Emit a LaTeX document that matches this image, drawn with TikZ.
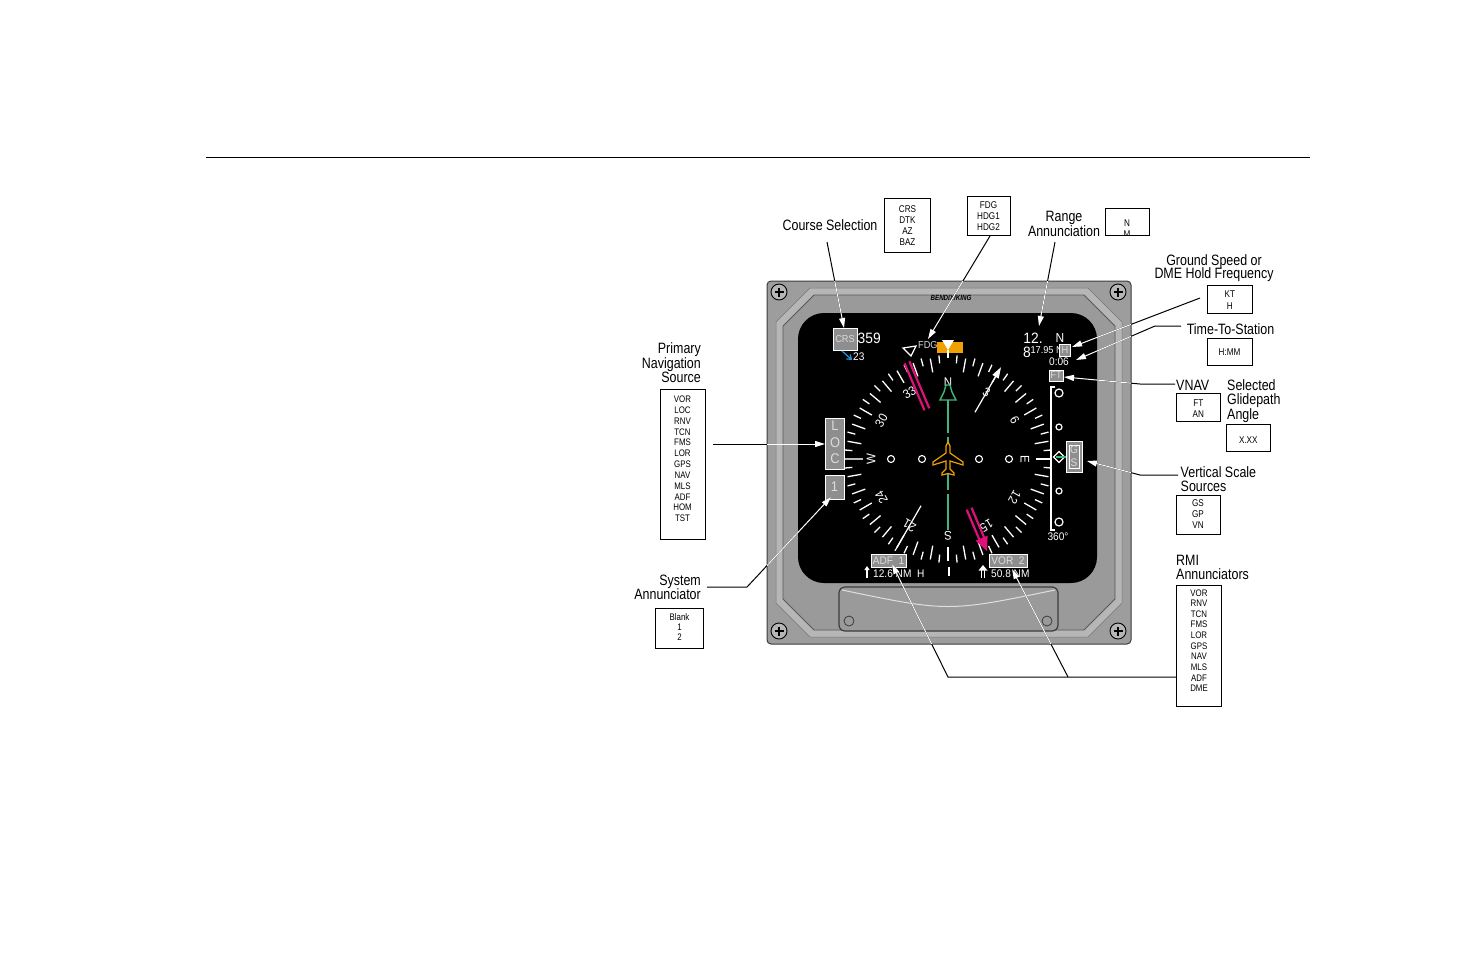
\documentclass[tikz,border=0pt]{standalone}
\usepackage{fontspec}
\setmainfont{Liberation Sans}[FakeStretch=0.83]
\newfontfamily\dispfont{Liberation Sans}[FakeStretch=0.92]
\usetikzlibrary{arrows.meta}
\definecolor{casegray}{HTML}{9D9D9D}
\definecolor{bandgray}{HTML}{B6B6B6}
\definecolor{recgray}{HTML}{9A9A9A}
\definecolor{edgegray}{HTML}{3C3C3C}
\definecolor{annfill}{HTML}{8E8E8E}
\definecolor{anntext}{HTML}{DCDCDC}
\definecolor{hsgreen}{HTML}{3DB87A}
\definecolor{hsorange}{HTML}{F0A000}
\definecolor{hsmag}{HTML}{E0107A}
\definecolor{hsblue}{HTML}{1E9BE0}
\newcommand\myfs[1]{\fontsize{#1}{#1}\selectfont}
\newcommand\mycallouts[1]{%
  \draw[callout,#1] (csS) -- (csE);
  \draw[callout,#1] (fdS) -- (fdE);
  \draw[callout,#1] (raS) -- (raE);
  \draw[callout,#1] (gsS) -- (gsE);
  \draw[callout,#1] (ttS) -- (ttB) -- (ttE);
  \draw[callout,#1] (vnS) -- (vnB) -- (vnE);
  \draw[callout,#1] (vsS) -- (vsB) -- (vsE);
  \draw[callout,#1] (rmS) -- (rmC) -- (rmE2);
  \draw[callout,#1] (rmB) -- (rmE1);
  \draw[callout,#1] (pnS) -- (pnE);
  \draw[callout,#1] (saS) -- (saB) -- (saE);
}
\begin{document}
\begin{tikzpicture}[x=1pt,y=-1pt,
  lbl/.style={font=\myfs{15}, inner sep=0pt},
  boxtxt/.style={font=\myfs{9.8}, inner sep=0pt, anchor=base},
  listtxt/.style={font=\myfs{9.5}, inner sep=0pt, anchor=base},
  optbox/.style={draw=black, line width=0.8pt, inner sep=0pt, outer sep=0pt},
  disp/.style={font=\dispfont\myfs{11}, text=white, inner sep=0pt},
  annbox/.style={fill=annfill, draw=white, line width=0.8pt, text=anntext, inner sep=0pt, font=\dispfont\myfs{10}},
  tickline/.style={white, line width=1.3pt},
  callout/.style={line width=1pt, -{Triangle[length=10pt,width=6pt]}},
]
\useasboundingbox (0,0) rectangle (1473,954);
\fill[white] (0,0) rectangle (1473,954);

% top rule
\coordinate (ruleL) at (206,157);
\coordinate (ruleR) at (1310,157);
\draw[line width=0.9pt] (ruleL) -- (ruleR);

% ---------- instrument case ----------
\draw[fill=casegray, draw=edgegray, line width=1pt, rounded corners=4pt] (767,281) rectangle (1131,644);
\draw[fill=bandgray, draw=edgegray!70, line width=0.5pt] (776,322) -- (810,288) -- (1088,288) -- (1122,322) -- (1122,603) -- (1088,637) -- (810,637) -- (776,603) -- cycle;
\draw[fill=recgray, draw=edgegray!85, line width=0.8pt] (783,326) -- (814,295) -- (1084,295) -- (1115,326) -- (1115,599) -- (1084,630) -- (814,630) -- (783,599) -- cycle;
\fill[black, rounded corners=26pt] (798,313) rectangle (1097,583);

% lower panel
\draw[fill=recgray, draw=edgegray, line width=1.2pt, rounded corners=6pt] (839,587) rectangle (1058,631);
\draw[white!75!gray, line width=1pt] (842,590) .. controls (948,612) .. (1055,590);
\draw[edgegray, line width=0.8pt] (849,621) circle[radius=5];
\draw[edgegray, line width=0.8pt] (1047,621) circle[radius=5];

% screws
\foreach \sx/\sy in {779/292,1118/292,779/631,1118/631}{
  \draw[fill=bandgray, draw=black, line width=0.9pt] (\sx,\sy) circle[radius=8];
  \draw[line width=2pt] (\sx-4.5,\sy) -- (\sx+4.5,\sy) (\sx,\sy-4.5) -- (\sx,\sy+4.5);
}
\node[font=\bfseries\itshape\myfs{7.5}, inner sep=0pt] (logo) at (951,298) {BENDIX/KING};

% ---------- compass card ----------
\coordinate (cc) at (948,459);
\foreach \h in {10,20,...,260,280,290,...,350}
  \draw[tickline, shift={(cc)}, rotate=-\h] (0,-102) -- (0,-88);
\foreach \h in {5,15,...,355}
  \draw[tickline, shift={(cc)}, rotate=-\h] (0,-104) -- (0,-96);
\draw[gray!55, line width=2pt] (845,459) -- (863,459);
\foreach \h/\t in {0/N,30/3,60/6,90/E,120/12,150/15,180/S,210/21,240/24,270/W,300/30,330/33}
  \node[disp, font=\dispfont\myfs{12.5}, rotate=-\h] (lab\h) at ({948+77*sin(\h)},{459-77*cos(\h)}) {\t};

% desired track bug + FDG
\draw[white, line width=1.2pt] (903,348) -- (916,346) -- (911,356) -- cycle;
\node[disp, text=anntext, font=\dispfont\myfs{10}, anchor=west] (fdg) at (918,345) {FDG};

% heading bug and lubber lines
\fill[hsorange] (937,342) rectangle (963,353);
\fill[white] (942,340) -- (954,340) -- (948,350) -- cycle;
\draw[white, line width=1.2pt] (948,350) -- (948,358);
\draw[white, line width=1.2pt] (949,567) -- (949,576);

% magenta RMI needle
\begin{scope}[shift={(cc)}, rotate=23]
  \draw[hsmag, line width=2.2pt] (-2.6,-105) -- (-2.6,-54) (2.6,-105) -- (2.6,-54);
  \draw[hsmag, line width=2.2pt] (-2.6,54) -- (-2.6,88) (2.6,54) -- (2.6,88);
  \fill[hsmag] (-6.5,86) -- (6.5,86) -- (0,100) -- cycle;
\end{scope}
% white RMI needle
\begin{scope}[shift={(cc)}, rotate=-30]
  \draw[white, line width=1.2pt, -{Triangle[length=11pt,width=7pt]}] (0,-54) -- (0,-106);
  \draw[white, line width=1.2pt] (0,54) -- (0,106);
\end{scope}

% green course needle
\draw[hsgreen, line width=1.4pt, fill=black] (946,385) -- (950,385) -- (952,392) -- (956,400) -- (940,400) -- (944,392) -- cycle;
\draw[hsgreen, line width=2.5pt] (948,400) -- (948,433);
\draw[hsgreen, line width=2.5pt] (948,437) -- (948,490);
\draw[hsgreen, line width=2.5pt] (948,494) -- (948,530);

% dots
\foreach \dx in {891,922,979,1009}
  \draw[white, line width=1.1pt] (\dx,459) circle[radius=3.5];

% aircraft symbol
\draw[hsorange, line width=1.2pt, fill=black, shift={(cc)}] (0,-17) -- (2,-13) -- (2,-6) -- (15,3) -- (15,6) -- (2,2) -- (2,10) -- (6,14) -- (6,16) -- (0,14.5) -- (-6,16) -- (-6,14) -- (-2,10) -- (-2,2) -- (-15,6) -- (-15,3) -- (-2,-6) -- (-2,-13) -- cycle;

% ---------- annunciations ----------
\node[annbox, minimum width=24pt, minimum height=22pt] (crs) at (845,339) {CRS};
\node[disp, font=\dispfont\myfs{15}, anchor=west] (crsval) at (857.5,338.5) {359};
\draw[hsblue, line width=1.2pt, -{Straight Barb[length=4pt,width=6pt]}] (842,351) -- (852,360);
\node[disp, font=\dispfont\myfs{11}, anchor=west] (crsdev) at (853,357) {23};

\node[annbox, minimum width=19pt, minimum height=51pt] (loc) at (834.5,443.5) {};
\node[disp, text=anntext, font=\dispfont\myfs{14}] (locL) at (835,426) {L};
\node[disp, text=anntext, font=\dispfont\myfs{14}] (locO) at (835,443) {O};
\node[disp, text=anntext, font=\dispfont\myfs{14}] (locC) at (835,459) {C};
\node[annbox, minimum width=19pt, minimum height=24pt, font=\dispfont\myfs{14}] (sys) at (834.5,487) {1};

\node[disp, font=\dispfont\myfs{15}] (rng1) at (1033,338.5) {12.};
\node[disp, font=\dispfont\myfs{13}] (rngN) at (1060,338) {N};
\node[disp, font=\dispfont\myfs{15}] (rng8) at (1027,352) {8};
\node[disp, font=\dispfont\myfs{10}, anchor=east] (gsval) at (1063,350.5) {17.95 N};
\node[annbox, minimum width=11pt, minimum height=12pt] (gsH) at (1065,350.5) {H};
\node[disp, font=\dispfont\myfs{11}] (tts) at (1059,362) {0:06};
\node[annbox, minimum width=14pt, minimum height=11pt] (ft) at (1056,375.5) {FT};

% vertical scale
\draw[white, line width=1.3pt] (1055,387) -- (1051,387) -- (1051,530) -- (1055,530);
\draw[white, line width=1.2pt] (1059,393) circle[radius=4];
\draw[white, line width=1.2pt] (1059,427) circle[radius=3];
\draw[white, line width=1.2pt] (1059,491) circle[radius=3];
\draw[white, line width=1.2pt] (1059,522) circle[radius=4];
\draw[white, line width=1.2pt] (1059,451.5) -- (1064.5,457) -- (1059,462.5) -- (1053.5,457) -- cycle;
\draw[hsgreen, line width=2.2pt] (1056,457) -- (1067,457);
\node[annbox, minimum width=16pt, minimum height=31pt] (gsbox) at (1074,456.5) {};
\node[draw=white, line width=0.8pt, minimum width=10pt, minimum height=23pt, inner sep=0pt] (gsin) at (1074,456.5) {};
\node[disp, text=anntext, font=\dispfont\myfs{11}] (gsG) at (1074,450) {G};
\node[disp, text=anntext, font=\dispfont\myfs{11}] (gsS) at (1074,463) {S};
\node[disp, font=\dispfont\myfs{11}] (deg) at (1058,537) {360°};

% bottom RMI annunciators
\node[annbox, minimum width=35pt, minimum height=13pt, font=\dispfont\myfs{11}] (adf) at (888.5,560.5) {ADF\ \ 1};
\node[annbox, minimum width=38pt, minimum height=13pt, font=\dispfont\myfs{11}] (vor) at (1008,560.5) {VOR\ \ 2};
\draw[white, line width=1.2pt, -{Triangle[length=4pt,width=5pt]}] (867,578) -- (867,566);
\node[disp, font=\dispfont\myfs{11}, anchor=west] (adfd) at (873,573.5) {12.6 NM\ \ H};
\draw[white, line width=1pt] (981.5,578) -- (981.5,570) (984.5,578) -- (984.5,570);
\fill[white] (978.5,570.5) -- (987.5,570.5) -- (983,565) -- cycle;
\node[disp, font=\dispfont\myfs{11}, anchor=west] (vord) at (991,573.5) {50.8 NM};

% ---------- labels ----------
\node[lbl, anchor=base] (lcs) at (830,230) {Course Selection};
\node[lbl, anchor=base] (lra1) at (1064,221) {Range};
\node[lbl, anchor=base] (lra2) at (1064,236) {Annunciation};
\node[lbl, anchor=base] (lgs1) at (1214,265) {Ground Speed or};
\node[lbl, anchor=base] (lgs2) at (1214,278.5) {DME Hold Frequency};
\node[lbl, anchor=base] (ltt) at (1230.5,334) {Time-To-Station};
\node[lbl, anchor=base west] (lvn) at (1176,390) {VNAV};
\node[lbl, anchor=base west] (lsg1) at (1227,390) {Selected};
\node[lbl, anchor=base west] (lsg2) at (1227,404.5) {Glidepath};
\node[lbl, anchor=base west] (lsg3) at (1227,419) {Angle};
\node[lbl, anchor=base west] (lvs1) at (1180.5,477) {Vertical Scale};
\node[lbl, anchor=base west] (lvs2) at (1180.5,491) {Sources};
\node[lbl, anchor=base west] (lrm1) at (1176,565.5) {RMI};
\node[lbl, anchor=base west] (lrm2) at (1176,579) {Annunciators};
\node[lbl, anchor=base east] (lpn1) at (701,353.5) {Primary};
\node[lbl, anchor=base east] (lpn2) at (701,368) {Navigation};
\node[lbl, anchor=base east] (lpn3) at (701,382.5) {Source};
\node[lbl, anchor=base east] (lsa1) at (701,585) {System};
\node[lbl, anchor=base east] (lsa2) at (701,599.5) {Annunciator};

% ---------- option boxes ----------
\node[optbox, minimum width=46pt, minimum height=53.5pt] (bcrs) at (907.5,225.25) {};
\foreach \t/\b in {CRS/212.7,DTK/223.3,AZ/234.1,BAZ/245}
  \node[boxtxt] (bcrs\t) at (907.5,\b) {\t};
\node[optbox, minimum width=43pt, minimum height=39pt] (bfdg) at (988.5,215.5) {};
\foreach \t/\b in {FDG/208.3,HDG1/219.3,HDG2/230}
  \node[boxtxt] (bfdg\t) at (988.5,\b) {\t};
\begin{scope}
  \clip (1105,208.3) rectangle (1149.3,235.7);
  \node[boxtxt] (bnmN) at (1127,226) {N};
  \node[boxtxt] (bnmM) at (1127,237.5) {M};
\end{scope}
\node[optbox, minimum width=44.3pt, minimum height=27.4pt] (bnm) at (1127.2,222) {};
\node[optbox, minimum width=45pt, minimum height=27.6pt] (bkt) at (1229.8,299.5) {};
\node[boxtxt] (bktKT) at (1229.8,297.3) {KT};
\node[boxtxt] (bktH) at (1229.8,309) {H};
\node[optbox, minimum width=45pt, minimum height=26.7pt] (bhm) at (1229.5,351.7) {};
\node[boxtxt] (bhmT) at (1229.5,355.7) {H:MM};
\node[optbox, minimum width=43.3pt, minimum height=27.7pt] (bvn) at (1198.3,407.2) {};
\node[boxtxt] (bvnFT) at (1198.3,406.7) {FT};
\node[boxtxt] (bvnAN) at (1198.3,417.3) {AN};
\node[optbox, minimum width=43.3pt, minimum height=27.7pt] (bga) at (1248.3,437.8) {};
\node[boxtxt] (bgaT) at (1248.3,443.3) {X.XX};
\node[optbox, minimum width=44pt, minimum height=39pt] (bvs) at (1198,514.5) {};
\foreach \t/\b in {GS/506.7,GP/517.3,VN/528.3}
  \node[boxtxt] (bvs\t) at (1198,\b) {\t};
\node[optbox, minimum width=45.7pt, minimum height=121.7pt] (brmi) at (1198.8,645.8) {};
\foreach \t [count=\i from 0] in {VOR,RNV,TCN,FMS,LOR,GPS,NAV,MLS,ADF,DME}
  \node[listtxt] (brmi\i) at (1199,{596+10.63*\i}) {\t};
\node[optbox, minimum width=44.3pt, minimum height=150pt] (bpn) at (682.8,464.3) {};
\foreach \t [count=\i from 0] in {VOR,LOC,RNV,TCN,FMS,LOR,GPS,NAV,MLS,ADF,HOM,TST}
  \node[listtxt] (bpn\i) at (682.5,{402.7+10.82*\i}) {\t};
\node[optbox, minimum width=47.6pt, minimum height=39.6pt] (bsa) at (679.5,628.5) {};
\foreach \t/\b in {Blank/620,1/630,2/640}
  \node[listtxt] (bsa\b) at (679.5,\b) {\t};

% ---------- callouts ----------
\coordinate (csS) at (827,242);   \coordinate (csE) at (844,328);
\coordinate (fdS) at (990,236);   \coordinate (fdE) at (928,339);
\coordinate (raS) at (1055,242);  \coordinate (raE) at (1039,326);
\coordinate (gsS) at (1200,298);  \coordinate (gsE) at (1072,347);
\coordinate (ttS) at (1181,326);  \coordinate (ttB) at (1155,326); \coordinate (ttE) at (1076,360);
\coordinate (vnS) at (1175,384);  \coordinate (vnB) at (1140,384); \coordinate (vnE) at (1064,377);
\coordinate (vsS) at (1178,475);  \coordinate (vsB) at (1140,475); \coordinate (vsE) at (1087,461);
\coordinate (rmS) at (1176,677);  \coordinate (rmB) at (1068,677); \coordinate (rmC) at (948,677);
\coordinate (rmE1) at (1012,569); \coordinate (rmE2) at (892,564);
\coordinate (pnS) at (713,444);   \coordinate (pnE) at (825,444);
\coordinate (saS) at (707,587);   \coordinate (saB) at (747,587);  \coordinate (saE) at (831,497);
\mycallouts{black}
\begin{scope}
  \clip[rounded corners=4pt] (767,281) rectangle (1131,644);
  \mycallouts{white}
\end{scope}
\end{tikzpicture}
\end{document}
